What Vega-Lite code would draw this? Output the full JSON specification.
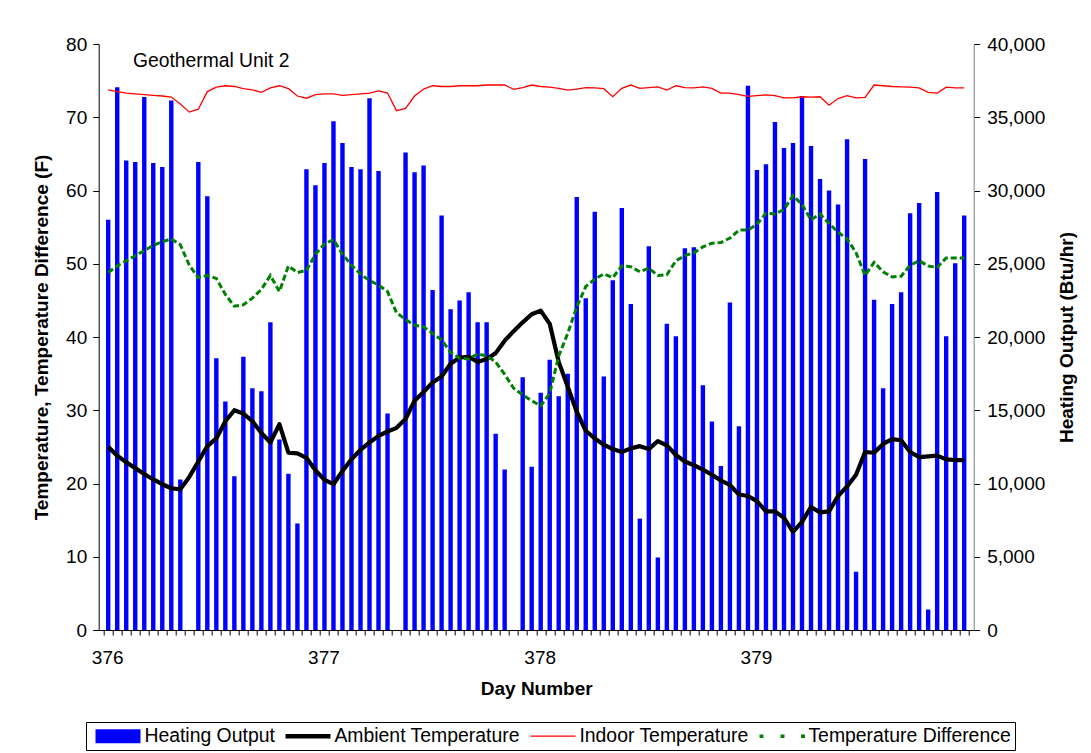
{
  "$schema": "https://vega.github.io/schema/vega-lite/v6.json",
  "width": 875,
  "height": 586,
  "autosize": {"type": "none"},
  "padding": {"left": 98.7, "top": 44, "right": 117.3, "bottom": 123},
  "background": "white",
  "title": {"text": "Geothermal Unit 2", "anchor": "start", "frame": "group", "orient": "top", "fontSize": 19.3, "fontWeight": "normal", "color": "#000000", "font": "Liberation Sans", "offset": 0, "dx": 34.3, "dy": 51.5, "baseline": "alphabetic"},
  "config": {
    "font": "Liberation Sans",
    "view": {"stroke": null},
    "axis": {"labelFont": "Liberation Sans", "titleFont": "Liberation Sans", "labelFontSize": 19, "titleFontSize": 19, "labelColor": "#000000", "titleColor": "#000000", "titleFontWeight": "bold", "grid": false, "domainColor": "#000000", "tickColor": "#000000", "domainWidth": 1, "tickWidth": 1}
  },
  "data": {"values": [
    {"day": 376, "heating": 28000, "ambient": 25.0, "indoor": 73.75, "diff": 48.8},
    {"day": 376.0417, "heating": 37050, "ambient": 23.8, "indoor": 73.5, "diff": 49.7},
    {"day": 376.0833, "heating": 32050, "ambient": 22.9, "indoor": 73.3, "diff": 50.4},
    {"day": 376.125, "heating": 31950, "ambient": 22.1, "indoor": 73.2, "diff": 51.1},
    {"day": 376.1667, "heating": 36380, "ambient": 21.3, "indoor": 73.1, "diff": 51.8},
    {"day": 376.2083, "heating": 31880, "ambient": 20.55, "indoor": 73.0, "diff": 52.5},
    {"day": 376.25, "heating": 31600, "ambient": 19.9, "indoor": 72.9, "diff": 53.0},
    {"day": 376.2917, "heating": 36150, "ambient": 19.35, "indoor": 72.75, "diff": 53.4},
    {"day": 376.3333, "heating": 10280, "ambient": 19.2, "indoor": 71.8, "diff": 52.6},
    {"day": 376.375, "heating": 0, "ambient": 20.9, "indoor": 70.7, "diff": 49.8},
    {"day": 376.4167, "heating": 31950, "ambient": 23.0, "indoor": 71.1, "diff": 48.1},
    {"day": 376.4583, "heating": 29600, "ambient": 25.1, "indoor": 73.5, "diff": 48.4},
    {"day": 376.5, "heating": 18550, "ambient": 26.15, "indoor": 74.1, "diff": 48.0},
    {"day": 376.5417, "heating": 15600, "ambient": 28.5, "indoor": 74.3, "diff": 45.8},
    {"day": 376.5833, "heating": 10490, "ambient": 30.0, "indoor": 74.2, "diff": 44.2},
    {"day": 376.625, "heating": 18650, "ambient": 29.55, "indoor": 73.9, "diff": 44.4},
    {"day": 376.6667, "heating": 16500, "ambient": 28.5, "indoor": 73.75, "diff": 45.3},
    {"day": 376.7083, "heating": 16300, "ambient": 26.9, "indoor": 73.4, "diff": 46.5},
    {"day": 376.75, "heating": 21000, "ambient": 25.6, "indoor": 74.0, "diff": 48.4},
    {"day": 376.7917, "heating": 13000, "ambient": 28.1, "indoor": 74.3, "diff": 46.2},
    {"day": 376.8333, "heating": 10670, "ambient": 24.2, "indoor": 73.9, "diff": 49.7},
    {"day": 376.875, "heating": 7270, "ambient": 24.1, "indoor": 72.9, "diff": 48.8},
    {"day": 376.9167, "heating": 31450, "ambient": 23.5, "indoor": 72.6, "diff": 49.1},
    {"day": 376.9583, "heating": 30350, "ambient": 21.8, "indoor": 73.1, "diff": 51.3},
    {"day": 377, "heating": 31880, "ambient": 20.5, "indoor": 73.2, "diff": 52.7},
    {"day": 377.0417, "heating": 34730, "ambient": 19.9, "indoor": 73.2, "diff": 53.3},
    {"day": 377.0833, "heating": 33250, "ambient": 21.7, "indoor": 73.0, "diff": 51.3},
    {"day": 377.125, "heating": 31600, "ambient": 23.3, "indoor": 73.1, "diff": 49.8},
    {"day": 377.1667, "heating": 31450, "ambient": 24.6, "indoor": 73.2, "diff": 48.6},
    {"day": 377.2083, "heating": 36300, "ambient": 25.6, "indoor": 73.3, "diff": 47.7},
    {"day": 377.25, "heating": 31330, "ambient": 26.5, "indoor": 73.6, "diff": 47.1},
    {"day": 377.2917, "heating": 14780, "ambient": 27.1, "indoor": 73.3, "diff": 46.2},
    {"day": 377.3333, "heating": 0, "ambient": 27.6, "indoor": 70.9, "diff": 43.3},
    {"day": 377.375, "heating": 32600, "ambient": 28.8, "indoor": 71.2, "diff": 42.4},
    {"day": 377.4167, "heating": 31250, "ambient": 31.3, "indoor": 72.9, "diff": 41.6},
    {"day": 377.4583, "heating": 31700, "ambient": 32.5, "indoor": 73.85, "diff": 41.4},
    {"day": 377.5, "heating": 23200, "ambient": 33.8, "indoor": 74.3, "diff": 40.5},
    {"day": 377.5417, "heating": 28300, "ambient": 34.6, "indoor": 74.2, "diff": 39.6},
    {"day": 377.5833, "heating": 21900, "ambient": 36.35, "indoor": 74.2, "diff": 37.9},
    {"day": 377.625, "heating": 22500, "ambient": 37.2, "indoor": 74.3, "diff": 37.1},
    {"day": 377.6667, "heating": 23050, "ambient": 37.3, "indoor": 74.3, "diff": 37.0},
    {"day": 377.7083, "heating": 21000, "ambient": 36.6, "indoor": 74.3, "diff": 37.7},
    {"day": 377.75, "heating": 21000, "ambient": 37.0, "indoor": 74.4, "diff": 37.4},
    {"day": 377.7917, "heating": 13400, "ambient": 37.8, "indoor": 74.4, "diff": 36.6},
    {"day": 377.8333, "heating": 10950, "ambient": 39.5, "indoor": 74.4, "diff": 34.9},
    {"day": 377.875, "heating": 0, "ambient": 40.8, "indoor": 73.8, "diff": 33.0},
    {"day": 377.9167, "heating": 17250, "ambient": 42.0, "indoor": 74.05, "diff": 32.1},
    {"day": 377.9583, "heating": 11150, "ambient": 43.1, "indoor": 74.4, "diff": 31.3},
    {"day": 378, "heating": 16200, "ambient": 43.6, "indoor": 74.2, "diff": 30.6},
    {"day": 378.0417, "heating": 18450, "ambient": 41.8, "indoor": 74.1, "diff": 32.3},
    {"day": 378.0833, "heating": 15950, "ambient": 36.6, "indoor": 73.95, "diff": 37.4},
    {"day": 378.125, "heating": 17500, "ambient": 33.2, "indoor": 73.7, "diff": 40.5},
    {"day": 378.1667, "heating": 29550, "ambient": 29.8, "indoor": 73.85, "diff": 44.1},
    {"day": 378.2083, "heating": 22650, "ambient": 27.2, "indoor": 74.05, "diff": 46.9},
    {"day": 378.25, "heating": 28550, "ambient": 26.15, "indoor": 74.0, "diff": 47.9},
    {"day": 378.2917, "heating": 17300, "ambient": 25.3, "indoor": 73.9, "diff": 48.6},
    {"day": 378.3333, "heating": 23880, "ambient": 24.7, "indoor": 72.8, "diff": 48.1},
    {"day": 378.375, "heating": 28800, "ambient": 24.3, "indoor": 73.95, "diff": 49.7},
    {"day": 378.4167, "heating": 22250, "ambient": 24.8, "indoor": 74.4, "diff": 49.6},
    {"day": 378.4583, "heating": 7600, "ambient": 25.1, "indoor": 73.95, "diff": 48.9},
    {"day": 378.5, "heating": 26200, "ambient": 24.7, "indoor": 74.05, "diff": 49.4},
    {"day": 378.5417, "heating": 4950, "ambient": 25.8, "indoor": 74.15, "diff": 48.4},
    {"day": 378.5833, "heating": 20900, "ambient": 25.2, "indoor": 73.7, "diff": 48.5},
    {"day": 378.625, "heating": 20050, "ambient": 23.9, "indoor": 74.3, "diff": 50.4},
    {"day": 378.6667, "heating": 26050, "ambient": 23.0, "indoor": 74.05, "diff": 51.1},
    {"day": 378.7083, "heating": 26130, "ambient": 22.5, "indoor": 74.0, "diff": 51.5},
    {"day": 378.75, "heating": 16700, "ambient": 21.9, "indoor": 74.15, "diff": 52.3},
    {"day": 378.7917, "heating": 14230, "ambient": 21.2, "indoor": 73.95, "diff": 52.8},
    {"day": 378.8333, "heating": 11200, "ambient": 20.4, "indoor": 73.3, "diff": 52.9},
    {"day": 378.875, "heating": 22350, "ambient": 19.8, "indoor": 73.3, "diff": 53.5},
    {"day": 378.9167, "heating": 13900, "ambient": 18.5, "indoor": 73.1, "diff": 54.6},
    {"day": 378.9583, "heating": 37150, "ambient": 18.3, "indoor": 72.85, "diff": 54.6},
    {"day": 379, "heating": 31400, "ambient": 17.6, "indoor": 72.95, "diff": 55.4},
    {"day": 379.0417, "heating": 31800, "ambient": 16.2, "indoor": 73.05, "diff": 56.9},
    {"day": 379.0833, "heating": 34680, "ambient": 16.2, "indoor": 72.95, "diff": 56.8},
    {"day": 379.125, "heating": 32900, "ambient": 15.3, "indoor": 72.65, "diff": 57.4},
    {"day": 379.1667, "heating": 33250, "ambient": 13.4, "indoor": 72.65, "diff": 59.3},
    {"day": 379.2083, "heating": 36450, "ambient": 14.75, "indoor": 72.8, "diff": 58.1},
    {"day": 379.25, "heating": 33030, "ambient": 16.8, "indoor": 72.75, "diff": 56.0},
    {"day": 379.2917, "heating": 30780, "ambient": 16.05, "indoor": 72.8, "diff": 56.8},
    {"day": 379.3333, "heating": 30000, "ambient": 16.2, "indoor": 71.65, "diff": 55.5},
    {"day": 379.375, "heating": 29050, "ambient": 18.3, "indoor": 72.55, "diff": 54.3},
    {"day": 379.4167, "heating": 33500, "ambient": 19.6, "indoor": 72.95, "diff": 53.4},
    {"day": 379.4583, "heating": 3980, "ambient": 21.2, "indoor": 72.65, "diff": 51.5},
    {"day": 379.5, "heating": 32150, "ambient": 24.3, "indoor": 72.7, "diff": 48.4},
    {"day": 379.5417, "heating": 22550, "ambient": 24.2, "indoor": 74.4, "diff": 50.2},
    {"day": 379.5833, "heating": 16500, "ambient": 25.4, "indoor": 74.3, "diff": 48.9},
    {"day": 379.625, "heating": 22250, "ambient": 26.05, "indoor": 74.2, "diff": 48.2},
    {"day": 379.6667, "heating": 23050, "ambient": 25.9, "indoor": 74.15, "diff": 48.3},
    {"day": 379.7083, "heating": 28450, "ambient": 24.3, "indoor": 74.1, "diff": 49.8},
    {"day": 379.75, "heating": 29150, "ambient": 23.6, "indoor": 74.0, "diff": 50.4},
    {"day": 379.7917, "heating": 1400, "ambient": 23.7, "indoor": 73.4, "diff": 49.7},
    {"day": 379.8333, "heating": 29900, "ambient": 23.8, "indoor": 73.3, "diff": 49.5},
    {"day": 379.875, "heating": 20050, "ambient": 23.3, "indoor": 74.1, "diff": 50.8},
    {"day": 379.9167, "heating": 25030, "ambient": 23.2, "indoor": 74.0, "diff": 50.8},
    {"day": 379.9583, "heating": 28300, "ambient": 23.2, "indoor": 74.0, "diff": 50.8}
  ]},
  "encoding": {
    "x": {
      "field": "day", "type": "quantitative",
      "scale": {"domain": [375.979167, 379.979167], "nice": false, "zero": false},
      "axis": {
        "title": "Day Number",
        "values": [375.979167,
          376.020833,376.0625,376.104167,376.145833,376.1875,376.229167,376.270833,376.3125,376.354167,376.395833,376.4375,376.479167,376.520833,376.5625,376.604167,376.645833,376.6875,376.729167,376.770833,376.8125,376.854167,376.895833,376.9375,376.979167,
          377.020833,377.0625,377.104167,377.145833,377.1875,377.229167,377.270833,377.3125,377.354167,377.395833,377.4375,377.479167,377.520833,377.5625,377.604167,377.645833,377.6875,377.729167,377.770833,377.8125,377.854167,377.895833,377.9375,377.979167,
          378.020833,378.0625,378.104167,378.145833,378.1875,378.229167,378.270833,378.3125,378.354167,378.395833,378.4375,378.479167,378.520833,378.5625,378.604167,378.645833,378.6875,378.729167,378.770833,378.8125,378.854167,378.895833,378.9375,378.979167,
          379.020833,379.0625,379.104167,379.145833,379.1875,379.229167,379.270833,379.3125,379.354167,379.395833,379.4375,379.479167,379.520833,379.5625,379.604167,379.645833,379.6875,379.729167,379.770833,379.8125,379.854167,379.895833,379.9375,379.979167],
        "labelExpr": "abs(datum.value + 0.0208333 - round(datum.value + 0.0208333)) < 0.002 && datum.value < 379.9 ? '' + round(datum.value + 0.0208333) : ''",
        "labelOffset": 3.5,
        "labelOverlap": false,
        "labelBound": false,
        "labelFlush": false,
        "tickSize": 5,
        "labelPadding": 13,
        "titlePadding": 12
      }
    }
  },
  "layer": [
    {
      "mark": {"type": "bar", "size": 4.4, "color": "#0000ff"},
      "encoding": {
        "y": {
          "field": "heating", "type": "quantitative",
          "scale": {"domain": [0, 40000], "nice": false},
          "axis": {"orient": "right", "title": "Heating Output (Btu/hr)", "values": [0, 5000, 10000, 15000, 20000, 25000, 30000, 35000, 40000], "format": ",.0f", "tickSize": 6, "labelPadding": 7, "titleAngle": 270, "titleBaseline": "top", "titlePadding": 13, "domainColor": "#808080"}
        },
        "color": {
          "datum": "Heating Output", "type": "nominal",
          "scale": {"domain": ["Heating Output", "Ambient Temperature", "Indoor Temperature", "Temperature Difference"], "range": ["#0000ff", "#000000", "#ff0000", "#008000"]},
          "legend": {
            "orient": "none", "legendX": -12.7, "legendY": 678, "direction": "horizontal", "columns": 4,
            "title": null, "labelFontSize": 19.4, "labelFont": "Liberation Sans", "labelColor": "#000000", "labelLimit": 500,
            "symbolSize": 196, "symbolStrokeWidth": 0, "labelOffset": 35, "columnPadding": 5, "padding": 4,
            "strokeColor": "#000000", "fillColor": "#ffffff",
            "encode": {"symbols": {"update": {
              "shape": {"signal": "datum.value === 'Heating Output' ? 'M-0.6,-1H5.83V1H-0.6Z' : datum.value === 'Ambient Temperature' ? 'M-0.6,-0.32H5.83V0.32H-0.6Z' : datum.value === 'Indoor Temperature' ? 'M-0.6,-0.1H5.83V0.1H-0.6Z' : 'M-0.6,-0.25H-0.03V0.25H-0.6ZM2.4,-0.25H2.97V0.25H2.4ZM5.33,-0.25H5.9V0.25H5.33Z'"},
              "fill": {"signal": "datum.value === 'Heating Output' ? '#0000ff' : datum.value === 'Ambient Temperature' ? '#000000' : datum.value === 'Indoor Temperature' ? '#ff0000' : '#008000'"},
              "stroke": {"value": "transparent"},
              "strokeWidth": {"value": 0},
              "opacity": {"value": 1}
            }}}
          }
        }
      }
    },
    {
      "layer": [
        {
          "mark": {"type": "line", "color": "#000000", "strokeWidth": 4.2, "strokeJoin": "round"},
          "encoding": {
            "y": {"field": "ambient", "type": "quantitative", "scale": {"domain": [0, 80], "nice": false},
              "axis": {"title": "Temperature, Temperature Difference (F)", "values": [0, 10, 20, 30, 40, 50, 60, 70, 80], "tickSize": 6, "labelPadding": 6, "titlePadding": 14}},
            "color": {"datum": "Ambient Temperature", "type": "nominal"}
          }
        },
        {
          "mark": {"type": "line", "color": "#ff0000", "strokeWidth": 1.3},
          "encoding": {
            "y": {"field": "indoor", "type": "quantitative", "scale": {"domain": [0, 80], "nice": false},
              "axis": {"title": "Temperature, Temperature Difference (F)", "values": [0, 10, 20, 30, 40, 50, 60, 70, 80], "tickSize": 6, "labelPadding": 6, "titlePadding": 14}},
            "color": {"datum": "Indoor Temperature", "type": "nominal"}
          }
        },
        {
          "mark": {"type": "line", "color": "#008000", "strokeWidth": 3, "strokeDash": [6, 3]},
          "encoding": {
            "y": {"field": "diff", "type": "quantitative", "scale": {"domain": [0, 80], "nice": false},
              "axis": {"title": "Temperature, Temperature Difference (F)", "values": [0, 10, 20, 30, 40, 50, 60, 70, 80], "tickSize": 6, "labelPadding": 6, "titlePadding": 14}},
            "color": {"datum": "Temperature Difference", "type": "nominal"}
          }
        }
      ]
    }
  ],
  "resolve": {"scale": {"y": "independent"}}
}
